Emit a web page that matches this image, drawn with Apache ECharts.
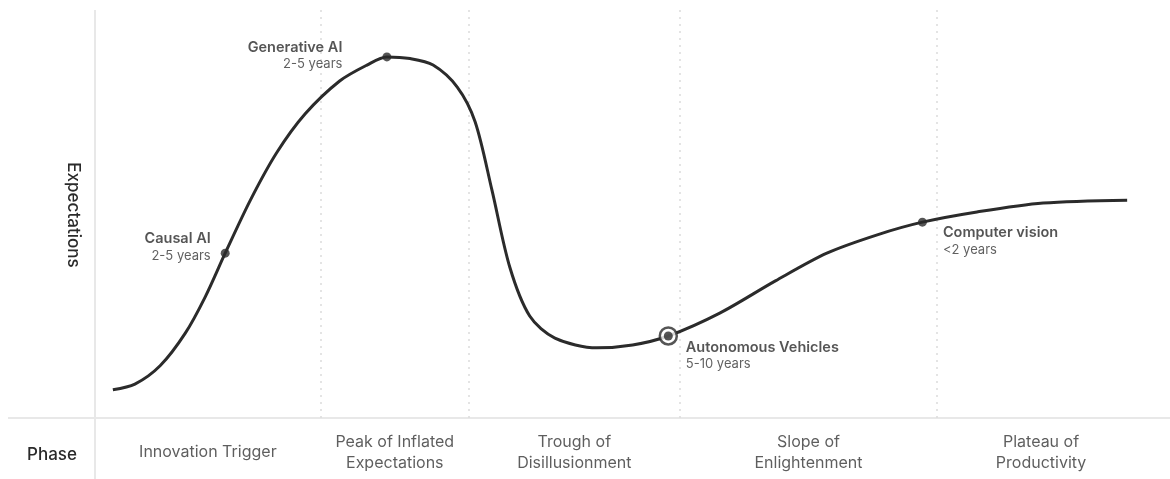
<!DOCTYPE html>
<html><head><meta charset="utf-8">
<script src="https://cdn.jsdelivr.net/npm/echarts@6/dist/echarts.min.js"></script>
<style>html,body{margin:0;padding:0;background:#fff}#c{width:1170px;height:479px}</style>
</head><body><div id="c"></div>
<script>
// Hype curve (time 0-100, expectations 0-100)
const curveX = [1.7, 3.8, 6.2, 8.6, 10.5, 12.4, 14.8, 17.3, 20.0, 23.3, 25.9, 27.8, 30.0, 32.2, 34.5, 36.2, 37.8, 39.5, 41.4, 43.8, 47.8, 51.2, 54.6, 59.5, 64.8, 69.7, 74.5, 78.8, 84.0, 90.3, 98.3];
const curveY = [6.9, 8.3, 12.8, 20.8, 29.7, 40.4, 53.4, 65.0, 74.5, 82.6, 86.5, 88.5, 88.1, 86.5, 81.1, 72.6, 55.9, 37.0, 25.0, 19.6, 17.2, 17.9, 20.1, 25.7, 33.6, 40.4, 44.9, 48.0, 50.5, 52.7, 53.4];

const techNames = ['Causal AI', 'Generative AI', 'Autonomous Vehicles', 'Computer vision'];
const techHorizons = ['2-5 years', '2-5 years', '5-10 years', '<2 years'];
const techX = [12.4, 27.8, 54.6, 78.8];
const techY = [40.4, 88.5, 20.1, 48.0];
const highlighted = 'Autonomous Vehicles';

const phaseNames = ['Innovation Trigger', 'Peak of Inflated\nExpectations', 'Trough of\nDisillusionment', 'Slope of\nEnlightenment', 'Plateau of\nProductivity'];
const phaseBounds = [0, 21.5, 35.6, 55.7, 80.2, 100];

const FONT = 'Inter, "Noto Sans", sans-serif';
const INK = '#2b2b2b';

const curveData = curveX.map((x, i) => [x, curveY[i]]);

const labelCfg = {
  'Causal AI': { position: 'left', distance: 8, offset: [-2, -6], align: 'right' },
  'Generative AI': { position: 'left', distance: 40, offset: [0, -1], align: 'right' },
  'Autonomous Vehicles': { position: 'right', distance: 13, offset: [0, 20], align: 'left' },
  'Computer vision': { position: 'right', distance: 16, offset: [0, 19], align: 'left' }
};

const techData = techNames.map((n, i) => {
  const c = labelCfg[n];
  return {
    name: n,
    value: [techX[i], techY[i]],
    label: {
      show: true,
      position: c.position,
      distance: c.distance,
      offset: c.offset,
      align: c.align,
      formatter: '{t|' + n + '}\n{s|' + techHorizons[i] + '}',
      rich: {
        t: { fontFamily: FONT, fontSize: 14.5, fontWeight: 600, color: '#2a2a2a', lineHeight: 17, align: c.align },
        s: { fontFamily: FONT, fontSize: 13, color: '#383838', lineHeight: 17, align: c.align }
      }
    }
  };
});

const hi = techNames.indexOf(highlighted);

const phaseData = phaseNames.map((n, i) => ({
  name: n,
  value: [(phaseBounds[i] + phaseBounds[i + 1]) / 2, 0.5]
}));

const dividers = phaseBounds.slice(1, -1).map(v => ({ xAxis: v }));

const chart = echarts.init(document.getElementById('c'));
chart.setOption({
  animation: false,
  backgroundColor: '#fff',
  grid: [
    { left: 95, right: 25, top: 10, bottom: 61 },
    { left: 95, right: 25, top: 426, bottom: 0 }
  ],
  xAxis: [
    { type: 'value', gridIndex: 0, min: 0, max: 100, show: false },
    { type: 'value', gridIndex: 1, min: 0, max: 100, show: false }
  ],
  yAxis: [
    { type: 'value', gridIndex: 0, min: 0, max: 100, show: false },
    { type: 'value', gridIndex: 1, min: 0, max: 1, show: false }
  ],
  graphic: [
    { type: 'line', z: -10, shape: { x1: 95, y1: 10, x2: 95, y2: 479 }, style: { stroke: '#e8e8e8', lineWidth: 2 }, silent: true },
    { type: 'line', z: -10, shape: { x1: 8, y1: 418, x2: 1170, y2: 418 }, style: { stroke: '#e8e8e8', lineWidth: 2 }, silent: true },
    { type: 'text', x: 73, y: 215, rotation: -Math.PI / 2, style: { text: 'Expectations', x: 0, y: 0, textAlign: 'center', textVerticalAlign: 'middle', fontFamily: FONT, fontSize: 17, fontWeight: 500, fill: '#2a2a2a' } },
    { type: 'text', x: 52, y: 455, style: { text: 'Phase', x: 0, y: 0, textAlign: 'center', textVerticalAlign: 'middle', fontFamily: FONT, fontSize: 17, fontWeight: 500, fill: '#2a2a2a' } }
  ],
  series: [
    {
      type: 'line',
      xAxisIndex: 0, yAxisIndex: 0,
      data: [],
      z: 0,
      markLine: {
        silent: true,
        z: 0,
        symbol: 'none',
        label: { show: false },
        lineStyle: { color: '#dcdcdc', width: 1.5, type: [2, 5] },
        data: dividers
      }
    },
    {
      type: 'line',
      xAxisIndex: 0, yAxisIndex: 0,
      data: curveData,
      smooth: 0.3,
      symbol: 'none',
      lineStyle: { color: INK, width: 3 },
      z: 2
    },
    {
      type: 'scatter',
      xAxisIndex: 0, yAxisIndex: 0,
      data: [{ value: [techX[hi], techY[hi]] }],
      symbol: 'circle',
      symbolSize: 17,
      itemStyle: { color: '#fff', borderColor: INK, borderWidth: 2.5 },
      z: 3
    },
    {
      type: 'scatter',
      xAxisIndex: 0, yAxisIndex: 0,
      data: techData,
      symbol: 'circle',
      symbolSize: 9,
      itemStyle: { color: INK },
      z: 4
    },
    {
      type: 'scatter',
      xAxisIndex: 1, yAxisIndex: 1,
      data: phaseData,
      symbolSize: 0,
      label: {
        show: true,
        position: 'inside',
        formatter: p => p.name,
        fontFamily: FONT,
        fontSize: 16,
        color: '#363636',
        lineHeight: 21,
        align: 'center'
      }
    }
  ]
});
</script>
</body></html>
